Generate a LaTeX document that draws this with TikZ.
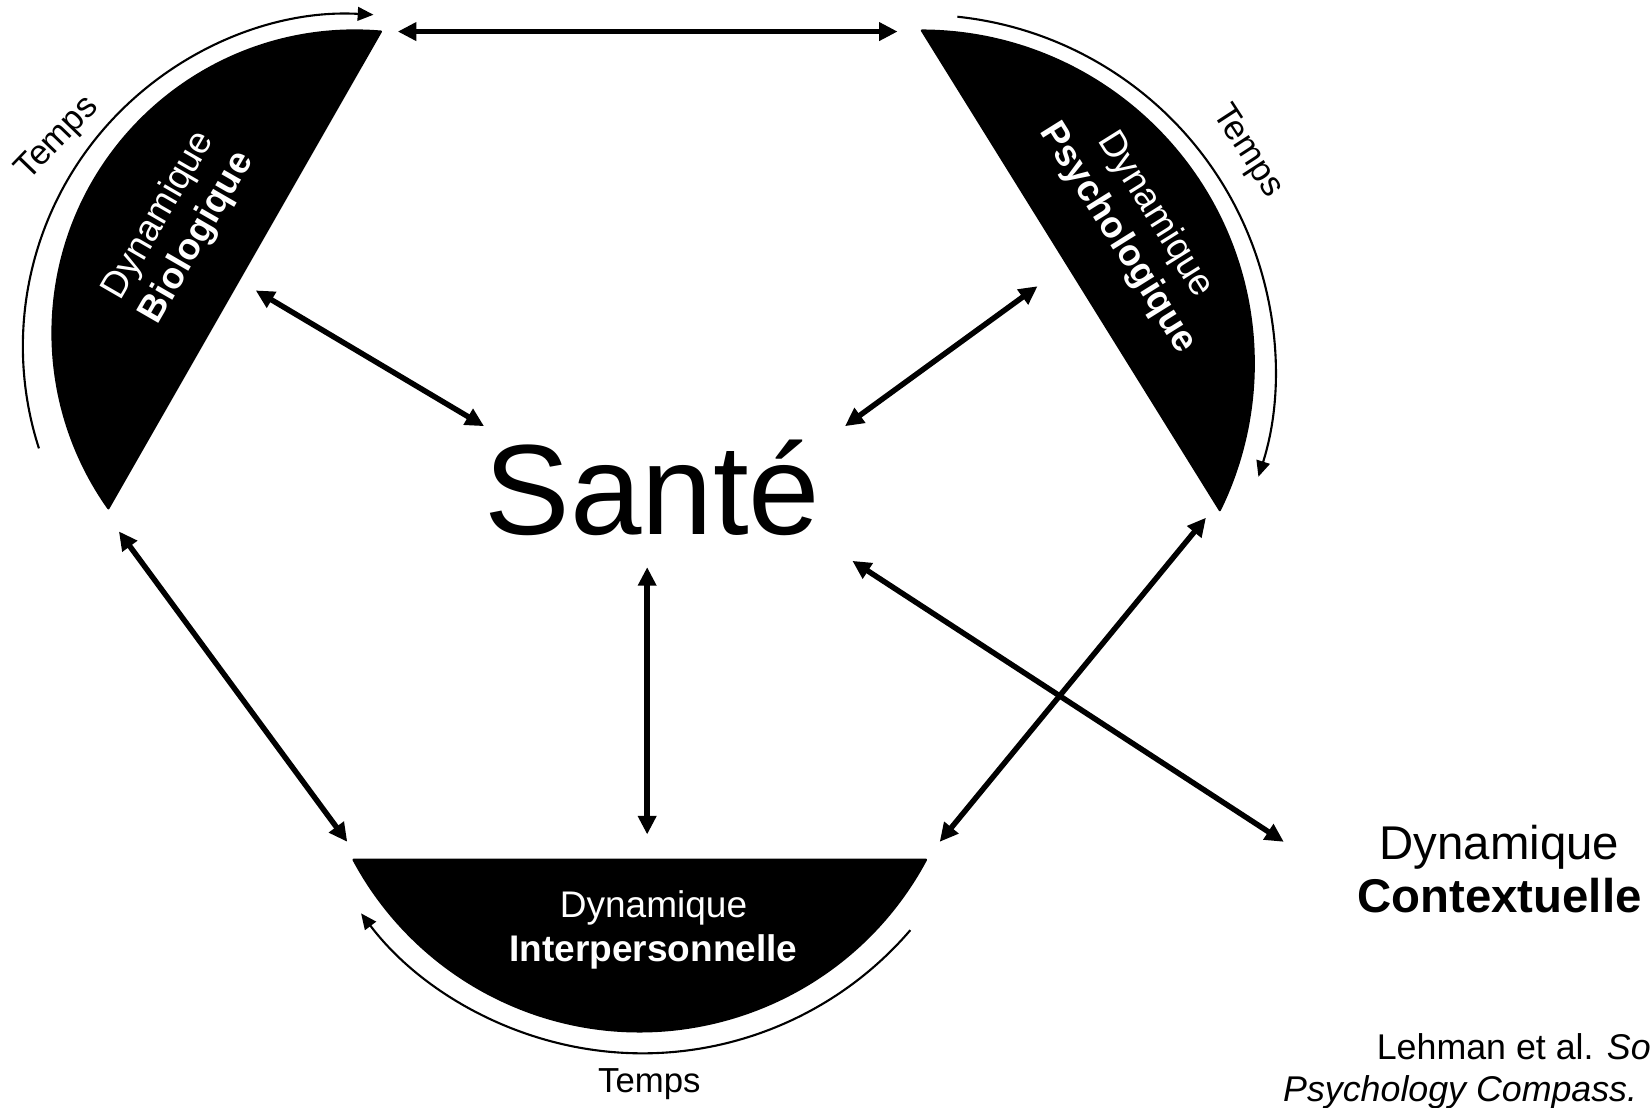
\documentclass[tikz,border=0pt]{standalone}
\usepackage{fontspec}
\setmainfont{Liberation Sans}
\usetikzlibrary{arrows.meta}
\begin{document}
\begin{tikzpicture}[x=0.5pt,y=-0.5pt,
  link/.style={line width=2.6pt, {Triangle[length=8.8pt,width=8.4pt]}-{Triangle[length=8.8pt,width=8.4pt]}},
  timearc/.style={line width=1pt, -{Triangle[length=7.5pt,width=6.5pt]}},
  segment/.style={fill=black, draw=black, line width=1pt, line join=round},
  seglabel/.style={text=white, align=center, font=\fontsize{17.6}{21}\selectfont, inner sep=0pt},
  timelabel/.style={font=\fontsize{16.5}{19}\selectfont, inner sep=0pt},
]
\useasboundingbox (0,0) rectangle (1568,1052);
\clip (0,0) rectangle (1568,1052);

% segments
\coordinate (bioTop) at (362,30);
\coordinate (psyTop) at (876,29);
\coordinate (intRight) at (880,817);
\path[segment] (bioTop) arc[start angle=-85.1, end angle=-215.4, radius=287.6] -- cycle;
\path[segment] (psyTop) arc[start angle=-89.8, end angle=26.1, radius=316.6] -- cycle;
\path[segment] (intRight) arc[start angle=28.1, end angle=151.9, radius=308.4] -- cycle;

% time arcs
\coordinate (bioT) at (37,426.1);
\coordinate (psyT) at (909.8,15.9);
\coordinate (intT) at (865.1,883.9);
\draw[timearc] (bioT) arc[start angle=-197.9, end angle=-86.8, radius=315.6];
\draw[timearc] (psyT) arc[start angle=-84, end angle=17.6, radius=337.1];
\draw[timearc] (intT) arc[start angle=40.6, end angle=142.9, radius=335.3];

% labels
\node[seglabel, rotate=60] (bio) at (169.5,215.5) {Dynamique\\\textbf{Biologique}};
\node[seglabel, rotate=-58] (psy) at (1080,215) {Dynamique\\\textbf{Psychologique}};
\node[seglabel] (inter) at (621,884) {Dynamique\\\textbf{Interpersonnelle}};
\node[align=center, inner sep=0pt, font=\fontsize{22.5}{25.5}\selectfont] (ctx) at (1425,826) {Dynamique\\\textbf{Contextuelle}};
\node[font=\fontsize{61}{70}\selectfont, anchor=base, inner sep=0pt] (sante) at (620,508) {Santé};

\node[timelabel, rotate=46] (tbio) at (55,132) {Temps};
\node[timelabel, rotate=-57] (tpsy) at (1185,144) {Temps};
\node[timelabel] (tint) at (617,1030) {Temps};

\node[anchor=base west, inner sep=0pt, font=\fontsize{17}{20}\selectfont] (cite1) at (1308,1007) {Lehman et al. \textit{Social}};
\node[anchor=base west, inner sep=0pt, font=\fontsize{17}{20}\selectfont] (cite2) at (1219,1047) {\textit{Psychology Compass.}};

% connectors
\coordinate (a1) at (378,30);   \coordinate (a2) at (853,30);
\coordinate (b1) at (243,276);  \coordinate (b2) at (460,405);
\coordinate (c1) at (986,272);  \coordinate (c2) at (803,405);
\coordinate (d1) at (615,539);  \coordinate (d2) at (615,793);
\coordinate (e1) at (113,505);  \coordinate (e2) at (330,800);
\coordinate (f1) at (1146,492); \coordinate (f2) at (893,800);
\coordinate (g1) at (810,533);  \coordinate (g2) at (1220,800);
\draw[link] (a1) -- (a2);
\draw[link] (b1) -- (b2);
\draw[link] (c1) -- (c2);
\draw[link] (d1) -- (d2);
\draw[link] (e1) -- (e2);
\draw[link] (f1) -- (f2);
\draw[link] (g1) -- (g2);
\end{tikzpicture}
\end{document}
